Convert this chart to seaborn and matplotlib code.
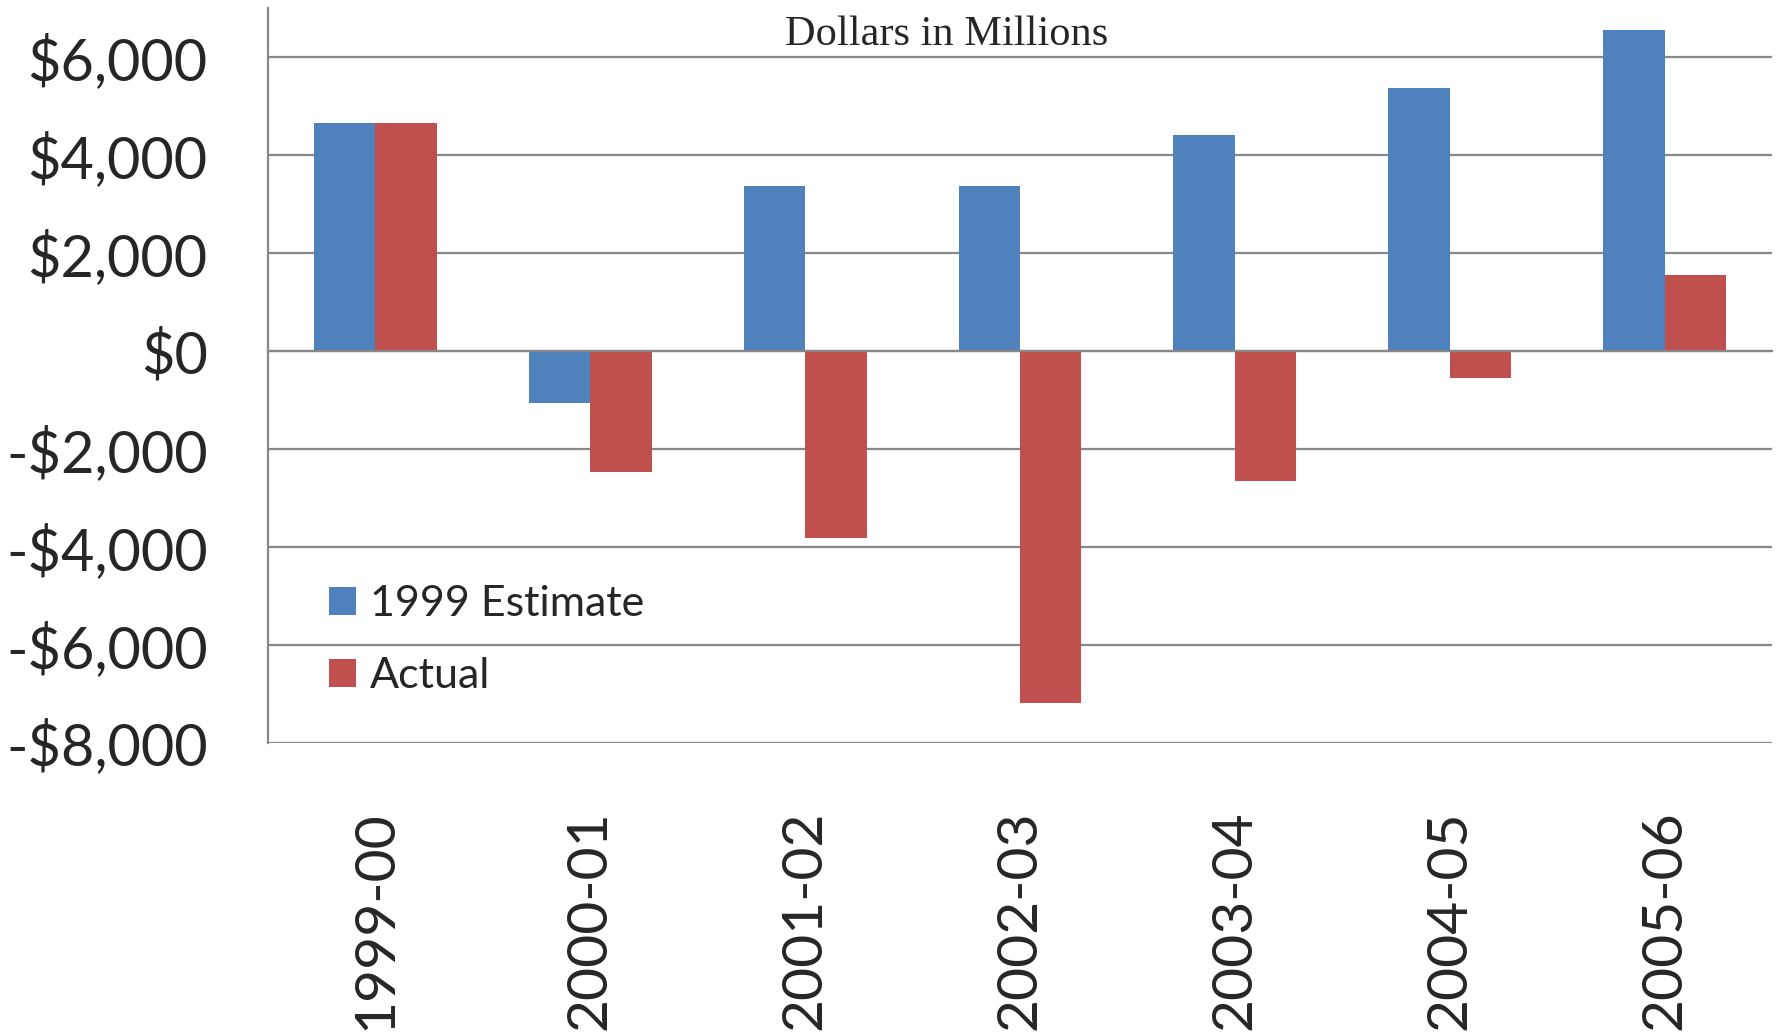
import numpy as np
import pandas as pd
import matplotlib
matplotlib.use("Agg")
import matplotlib.pyplot as plt
import seaborn as sns
from matplotlib.ticker import FuncFormatter

# ---- data ----
categories = ["1999-00", "2000-01", "2001-02", "2002-03", "2003-04", "2004-05", "2005-06"]
estimate_1999 = [4650, -1070, 3380, 3360, 4410, 5370, 6560]
actual = [4650, -2470, -3830, -7200, -2660, -560, 1550]
series_names = ["1999 Estimate", "Actual"]
y_ticks = [-8000, -6000, -4000, -2000, 0, 2000, 4000, 6000]
subtitle = "Dollars in Millions"

df = pd.DataFrame({
    "Year": categories * 2,
    "Series": [series_names[0]] * len(categories) + [series_names[1]] * len(categories),
    "Value": estimate_1999 + actual,
})

sns.set_style("white")
plt.rcParams["font.family"] = ["Lato", "DejaVu Sans"]

W, H, DPI = 17.83, 10.33, 100
fig = plt.figure(figsize=(W, H), dpi=DPI)
ax = fig.add_axes([268 / 1783, 1 - 742.6 / 1033, (1772 - 268) / 1783, (742.6 - 8.3) / 1033])

palette = {"1999 Estimate": "#4F81BD", "Actual": "#C0504D"}
sns.barplot(data=df, x="Year", y="Value", hue="Series", order=categories,
            hue_order=series_names, palette=palette, width=0.5714, gap=0,
            saturation=1, edgecolor="none", linewidth=0, ax=ax, legend=True)

grey = "#888888"
n = len(categories)
ax.set_xlim(-0.5, n - 0.5)
ax.set_ylim(-8000, 7000)
ax.set_yticks(y_ticks)
ax.yaxis.set_major_formatter(FuncFormatter(
    lambda v, p: f"-${abs(v):,.0f}" if v < 0 else f"${v:,.0f}"))
ax.yaxis.grid(True, color=grey, lw=1.6)
ax.xaxis.grid(False)
ax.set_axisbelow(True)

for s in ["top", "right"]:
    ax.spines[s].set_visible(False)
ax.spines["left"].set_color(grey)
ax.spines["left"].set_linewidth(1.6)
ax.spines["bottom"].set_position(("data", 0))
ax.spines["bottom"].set_color(grey)
ax.spines["bottom"].set_linewidth(1.6)

ax.set_xlabel("")
ax.set_ylabel("")
ax.set_xticks(range(n))
ax.set_xticklabels([""] * n)
ax.tick_params(axis="x", which="major", length=0)
ax.set_xticks(np.arange(n + 1) - 0.5, minor=True)
ax.tick_params(axis="x", which="minor", length=14.5, width=1.6, color=grey, direction="out")
ax.tick_params(axis="y", which="major", length=14.5, width=1.6, color=grey,
               direction="out", pad=29, labelsize=41.5)

sec = ax.secondary_xaxis("bottom")
sec.set_xticks(range(n))
sec.set_xticklabels(categories)
for lab in sec.get_xticklabels():
    lab.set_rotation(90)
    lab.set_fontsize(41)
    lab.set_va("top")
    lab.set_ha("center")
sec.tick_params(length=0, pad=49)
sec.spines["bottom"].set_visible(False)

handles, labels = ax.get_legend_handles_labels()
ax.legend(handles, labels, loc="center left",
          bbox_to_anchor=((329 - 268) / 1504, (742.6 - 640) / (742.6 - 8.3)),
          frameon=False, borderpad=0, borderaxespad=0,
          prop={"size": 31},
          handlelength=0.63, handleheight=0.63, handletextpad=0.33,
          labelspacing=0.8)

fig.text(947 / 1783, 1 - 45 / 1033, subtitle, ha="center", va="baseline",
         family=["Liberation Serif", "DejaVu Serif"], fontsize=30.5)

fig.savefig("out.png", dpi=DPI)
